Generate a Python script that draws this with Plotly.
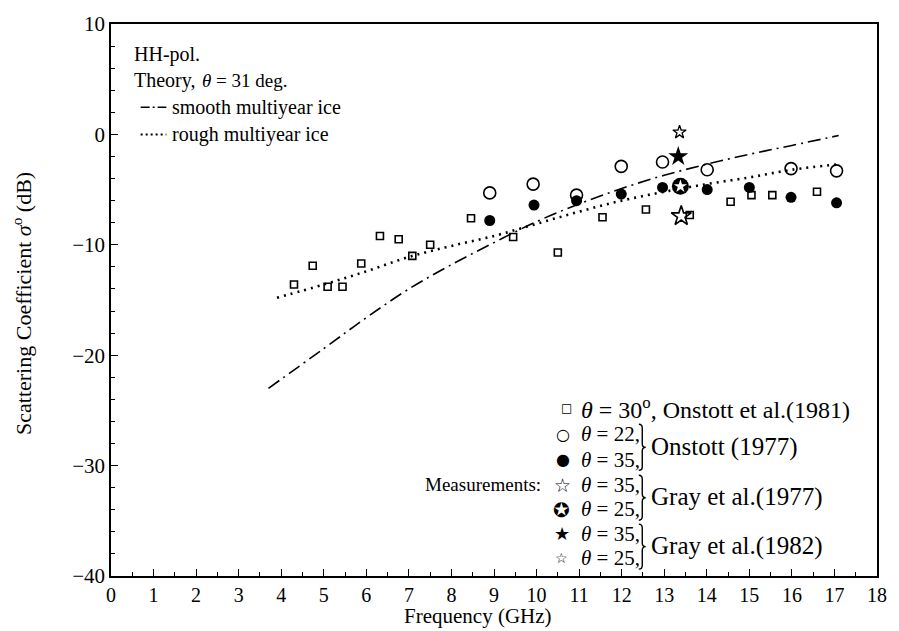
import plotly.graph_objects as go

# ---------------- data ----------------
smooth_freq = [3.7, 5, 6, 7, 8, 9, 10, 11, 12, 13, 14, 15, 16, 17.1]
smooth_db = [-23.0, -19.4, -16.6, -14.0, -11.8, -9.8, -7.9, -6.3, -4.9, -3.7, -2.7, -1.8, -1.0, -0.1]

rough_freq = [3.9, 5, 6, 7, 8, 9, 10, 11, 12, 13, 14, 15, 16, 17.1]
rough_db = [-14.8, -13.6, -12.4, -11.1, -10.1, -9.2, -8.1, -7.0, -6.0, -5.2, -4.5, -3.9, -3.2, -2.7]

onstott81_freq = [4.3, 4.74, 5.09, 5.44, 5.88, 6.32, 6.76, 7.08, 7.5, 8.46, 9.45, 10.5,
                  11.55, 12.57, 13.6, 14.56, 15.05, 15.54, 16.59]
onstott81_db = [-13.6, -11.9, -13.8, -13.8, -11.7, -9.2, -9.5, -11.0, -10.0, -7.6, -9.3, -10.7,
                -7.5, -6.8, -7.3, -6.1, -5.5, -5.5, -5.2]

onstott77_22_freq = [8.9, 9.92, 10.94, 11.99, 12.96, 14.01, 15.98, 17.05]
onstott77_22_db = [-5.3, -4.5, -5.5, -2.9, -2.5, -3.2, -3.1, -3.3]

onstott77_35_freq = [8.9, 9.94, 10.94, 11.99, 12.96, 14.01, 15.0, 15.98, 17.05]
onstott77_35_db = [-7.8, -6.4, -6.0, -5.4, -4.8, -5.0, -4.8, -5.7, -6.2]

gray77_35_freq = [13.4]
gray77_35_db = [-7.4]
gray77_25_freq = [13.38]
gray77_25_db = [-4.7]
gray82_35_freq = [13.33]
gray82_35_db = [-2.0]
gray82_25_freq = [13.36]
gray82_25_db = [0.2]

x_ticks = list(range(0, 19))
y_ticks = [10, 0, -10, -20, -30, -40]

# ---------------- layout helpers ----------------
W, H = 899, 631
ML, MR, MT, MB = 111, 13, 12, 55
PW, PH = W - ML - MR, H - MT - MB
SERIF = "Liberation Serif, Times New Roman, serif"
SYM = "DejaVu Sans"


def px(x):
    return (x - ML) / PW


def py(y):
    return (H - MB - y) / PH


fig = go.Figure()

fig.add_trace(go.Scatter(x=smooth_freq, y=smooth_db, mode="lines", line_shape="spline",
                         line=dict(color="black", width=1.6, dash="13px,5px,2px,5px"),
                         showlegend=False, hoverinfo="skip"))
fig.add_trace(go.Scatter(x=rough_freq, y=rough_db, mode="lines", line_shape="spline",
                         line=dict(color="black", width=2.6, dash="2px,5px"),
                         showlegend=False, hoverinfo="skip"))

fig.add_trace(go.Scatter(x=onstott81_freq, y=onstott81_db, mode="markers",
                         marker=dict(symbol="square-open", size=7, color="black",
                                     line=dict(width=1.6, color="black")),
                         showlegend=False))
fig.add_trace(go.Scatter(x=onstott77_22_freq, y=onstott77_22_db, mode="markers",
                         marker=dict(symbol="circle-open", size=12, color="black",
                                     line=dict(width=1.6, color="black")),
                         showlegend=False))
fig.add_trace(go.Scatter(x=onstott77_35_freq, y=onstott77_35_db, mode="markers",
                         marker=dict(symbol="circle", size=11, color="black"),
                         showlegend=False))
fig.add_trace(go.Scatter(x=gray77_35_freq, y=gray77_35_db, mode="markers",
                         marker=dict(symbol="star-open", size=15, color="black",
                                     line=dict(width=1.6, color="black")),
                         showlegend=False))
fig.add_trace(go.Scatter(x=gray77_25_freq, y=gray77_25_db, mode="markers",
                         marker=dict(symbol="circle", size=17, color="black"),
                         showlegend=False))
fig.add_trace(go.Scatter(x=gray77_25_freq, y=gray77_25_db, mode="markers",
                         marker=dict(symbol="star", size=10, color="white", line=dict(width=0)),
                         showlegend=False))
fig.add_trace(go.Scatter(x=gray82_35_freq, y=gray82_35_db, mode="markers",
                         marker=dict(symbol="star", size=15, color="black"),
                         showlegend=False))
fig.add_trace(go.Scatter(x=gray82_25_freq, y=gray82_25_db, mode="markers",
                         marker=dict(symbol="star-open", size=10, color="black",
                                     line=dict(width=1.3, color="black")),
                         showlegend=False))

ann = []


def text(x, y, s, size=20, anchor="left", family=SERIF, angle=0, yanchor="middle"):
    ann.append(dict(x=px(x), y=py(y), xref="paper", yref="paper", text=s, showarrow=False,
                    xanchor=anchor, yanchor=yanchor, textangle=angle,
                    font=dict(family=family, size=size, color="black")))


# top-left legend
text(132, 43, "HH-pol.", 20)
text(132, 70, "Theory,", 20)
text(201, 70, "<i>θ</i> = 31 deg.", 19)
text(171, 97, "smooth multiyear ice", 20)
text(171, 125, "rough multiyear ice", 20)

# bottom-right legend
r = [404, 431, 457, 483, 508, 533, 558]
text(572, r[0], "□", 12, "center", SYM)
text(585, r[0], "<i>θ</i> = 30<sup>o</sup>, Onstott et al.(1981)", 24)
text(568, r[1], "○", 16, "center", SYM)
text(585, r[1], "<i>θ</i> = 22,", 21)
text(568, r[2], "●", 16, "center", SYM)
text(585, r[2], "<i>θ</i> = 35,", 21)
text(655, (r[1] + r[2]) / 2, "Onstott (1977)", 25)
text(548, r[3], "Measurements:", 19, "right")
text(568, r[3], "☆", 19, "center", SYM)
text(585, r[3], "<i>θ</i> = 35,", 21)
text(567, r[4] + 1, "✪", 20, "center", SYM)
text(585, r[4], "<i>θ</i> = 25,", 21)
text(655, (r[3] + r[4]) / 2, "Gray et al.(1977)", 25)
text(567, r[5], "★", 18, "center", SYM)
text(585, r[5], "<i>θ</i> = 35,", 21)
text(567, r[6], "☆", 14, "center", SYM)
text(585, r[6], "<i>θ</i> = 25,", 21)
text(655, (r[5] + r[6]) / 2, "Gray et al.(1982)", 25)

# axis titles
text(482, 631, "Frequency (GHz)", 21, "center", yanchor="bottom")
text(21, 298, "Scattering Coefficient <i>σ</i><sup>o</sup> (dB)", 22, "center", SERIF, -90)

shapes = []
# legend line samples
shapes.append(dict(type="line", xref="paper", yref="paper", x0=px(141), x1=px(167), y0=py(97), y1=py(97),
                   line=dict(color="black", width=1.6, dash="9px,3px,2px,3px")))
shapes.append(dict(type="line", xref="paper", yref="paper", x0=px(141), x1=px(167), y0=py(125), y1=py(125),
                   line=dict(color="black", width=2.0, dash="2px,3px")))


def brace(x0, yt, yb, w=7, d=4):
    ym = (yt + yb) / 2
    xm = x0 + w / 2
    p = (f"M {px(x0)},{py(yt)} Q {px(xm)},{py(yt)} {px(xm)},{py(yt + d)} "
         f"L {px(xm)},{py(ym - d)} Q {px(xm)},{py(ym)} {px(x0 + w)},{py(ym)} "
         f"Q {px(xm)},{py(ym)} {px(xm)},{py(ym + d)} L {px(xm)},{py(yb - d)} "
         f"Q {px(xm)},{py(yb)} {px(x0)},{py(yb)}")
    shapes.append(dict(type="path", xref="paper", yref="paper", path=p,
                       line=dict(color="black", width=1.4)))


brace(645, r[1] - 10, r[2] + 11)
brace(645, r[3] - 10, r[4] + 11)
brace(645, r[5] - 10, r[6] + 11)

axis_common = dict(showgrid=False, zeroline=False, showline=True, linecolor="black", linewidth=1.6,
                   mirror=True, ticks="inside", ticklen=7, tickwidth=1.3, tickcolor="black")

fig.update_layout(
    width=W, height=H,
    margin=dict(l=ML, r=MR, t=MT, b=MB),
    paper_bgcolor="white", plot_bgcolor="white",
    showlegend=False,
    xaxis=dict(range=[0, 18], tickmode="array", tickvals=x_ticks, ticktext=[str(v) for v in x_ticks],
               tickfont=dict(family=SERIF, size=20, color="black"),
               minor=dict(ticks="inside", dtick=0.5, ticklen=4, tickcolor="black"), **axis_common),
    yaxis=dict(range=[-40, 10], tickmode="array", tickvals=y_ticks,
               tickfont=dict(family=SERIF, size=21, color="black"),
               minor=dict(ticks="inside", dtick=2, ticklen=4, tickcolor="black"), **axis_common),
    annotations=ann, shapes=shapes,
)

fig.write_html("out.html")
